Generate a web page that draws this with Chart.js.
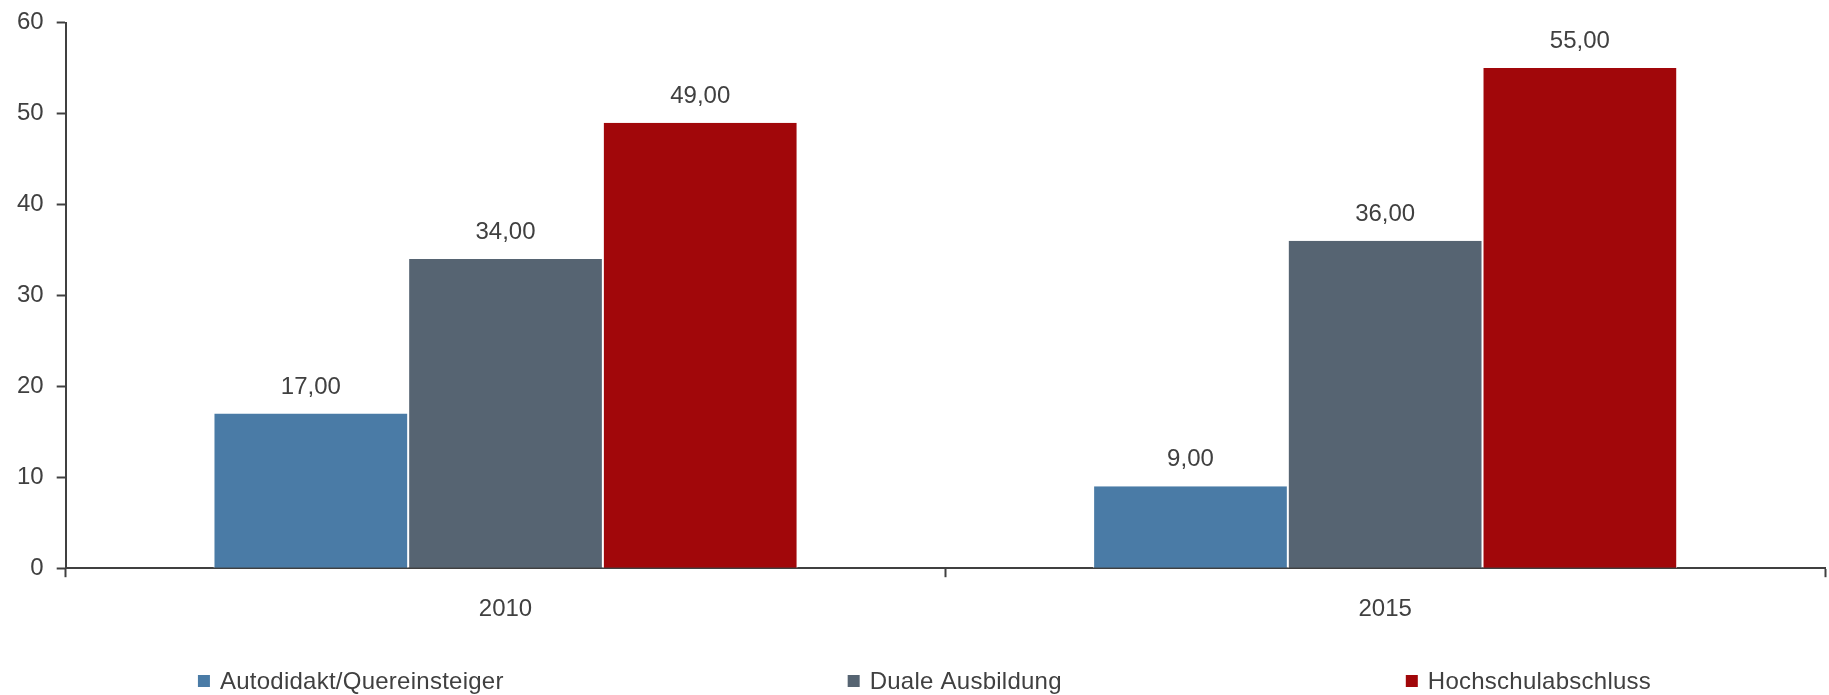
<!DOCTYPE html>
<html>
<head>
<meta charset="utf-8">
<script src="https://cdn.jsdelivr.net/npm/chart.js@4/dist/chart.umd.min.js"></script>
<style>
	html, body { margin: 0; padding: 0; background: #fff; }
	#wrap { width: 1829px; height: 695px; position: relative; }
</style>
</head>
<body>
<div id="wrap"><canvas id="chart"></canvas></div>
<script>
"use strict";

const categories = ['2010', '2015'];
const seriesNames = ['Autodidakt/Quereinsteiger', 'Duale Ausbildung', 'Hochschulabschluss'];
const seriesColors = ['#4a7ba6', '#566472', '#a1070a'];
const autodidakt = [17, 9];
const duale = [34, 36];
const hochschule = [49, 55];
const yTicks = [0, 10, 20, 30, 40, 50, 60];

const textColor = '#404040';
const axisColor = '#404040';
const fontFamily = '"Liberation Sans", Arial, sans-serif';

function formatValue(v) {
	return v.toFixed(2).replace('.', ',');
}

// value labels above each bar
const valueLabels = {
	id: 'valueLabels',
	afterDatasetsDraw(chart) {
		const ctx = chart.ctx;
		ctx.save();
		ctx.font = '24px ' + fontFamily;
		ctx.fillStyle = textColor;
		ctx.textAlign = 'center';
		ctx.textBaseline = 'alphabetic';
		chart.data.datasets.forEach(function(ds, i) {
			chart.getDatasetMeta(i).data.forEach(function(bar, j) {
				ctx.fillText(formatValue(ds.data[j]), bar.x, bar.y - 20);
			});
		});
		ctx.restore();
	}
};

// legend spread out along the bottom
const spreadLegend = {
	id: 'spreadLegend',
	afterDraw(chart) {
		const ctx = chart.ctx;
		const box = 12, spacing = 10, gap = 344;
		ctx.save();
		ctx.font = '24px ' + fontFamily;
		ctx.letterSpacing = '0.25px';
		ctx.textBaseline = 'middle';
		ctx.textAlign = 'left';
		const items = chart.data.datasets.map(function(ds) {
			return { text: ds.label, color: ds.backgroundColor, w: box + spacing + ctx.measureText(ds.label).width };
		});
		let total = gap * (items.length - 1);
		items.forEach(function(it) { total += it.w; });
		let x = (chart.width - total) / 2 + 10;
		const y = chart.height - 14;
		items.forEach(function(it) {
			ctx.fillStyle = it.color;
			ctx.fillRect(x, y - box / 2, box, box);
			ctx.fillStyle = textColor;
			ctx.fillText(it.text, x + box + spacing, y + 1);
			x += it.w + gap;
		});
		ctx.restore();
	}
};

const seriesData = [autodidakt, duale, hochschule];

new Chart(document.getElementById('chart'), {
	type: 'bar',
	data: {
		labels: categories,
		datasets: seriesData.map(function(d, i) {
			return {
				label: seriesNames[i],
				data: d,
				backgroundColor: seriesColors[i],
				borderColor: '#ffffff',
				borderWidth: { left: 1, right: 1, top: 0, bottom: 0 },
				categoryPercentage: 0.664,
				barPercentage: 1.0,
			};
		})
	},
	options: {
		responsive: true,
		maintainAspectRatio: false,
		animation: false,
		layout: {
			padding: { left: 4, right: 4, top: 8, bottom: 53 }
		},
		scales: {
			x: {
				grid: {
					display: true,
					drawOnChartArea: false,
					drawTicks: true,
					tickLength: 9,
					tickColor: axisColor,
					tickWidth: 2,
				},
				border: { display: true, color: axisColor, width: 2 },
				ticks: {
					color: textColor,
					font: { family: fontFamily, size: 24 },
					padding: 18,
				}
			},
			y: {
				min: 0,
				max: 60,
				afterBuildTicks: function(scale) {
					scale.ticks = yTicks.map(function(v) { return { value: v }; });
				},
				grid: {
					display: true,
					drawOnChartArea: false,
					drawTicks: true,
					tickLength: 9,
					tickColor: axisColor,
					tickWidth: 2,
				},
				border: { display: true, color: axisColor, width: 2 },
				ticks: {
					color: textColor,
					font: { family: fontFamily, size: 24, lineHeight: 0.8 },
					padding: 13,
				}
			}
		},
		plugins: {
			legend: { display: false },
			tooltip: { enabled: false }
		}
	},
	plugins: [valueLabels, spreadLegend]
});
</script>
</body>
</html>
